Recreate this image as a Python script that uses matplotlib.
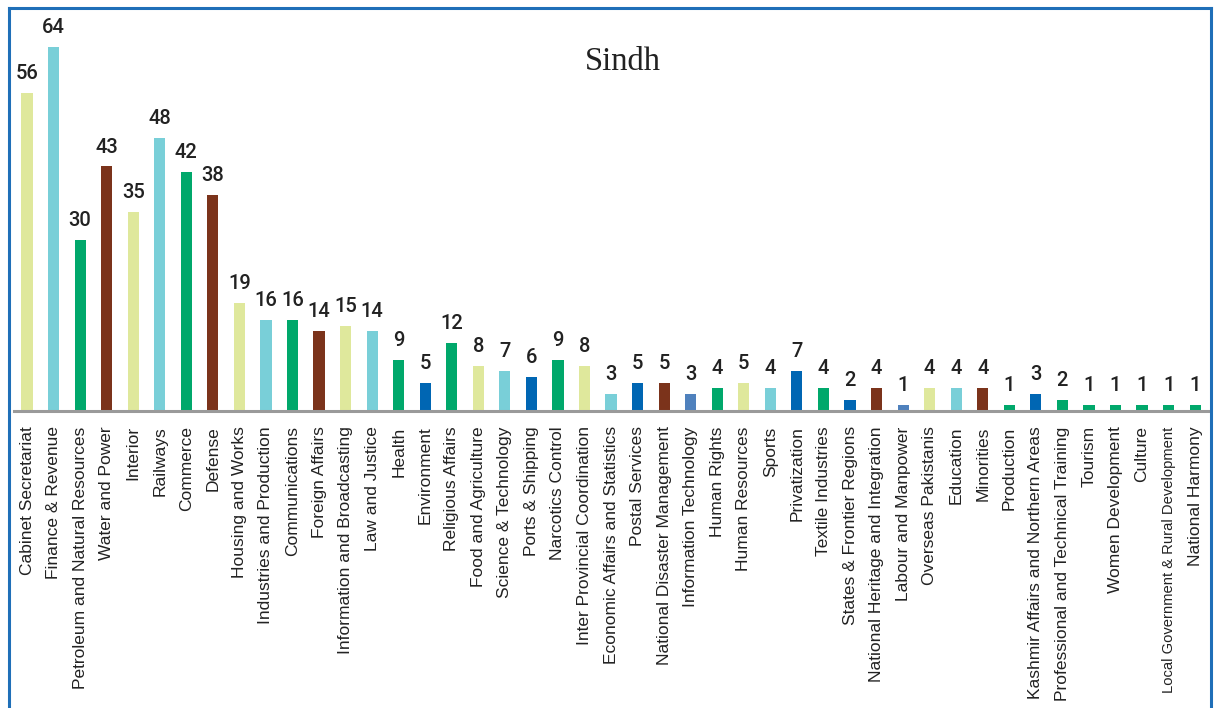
import matplotlib
matplotlib.use("Agg")
import matplotlib.pyplot as plt

categories = [
    "Cabinet Secretariat", "Finance & Revenue", "Petroleum and Natural Resources",
    "Water and Power", "Interior", "Railways", "Commerce", "Defense",
    "Housing and Works", "Industries and Production", "Communications",
    "Foreign Affairs", "Information and Broadcasting", "Law and Justice",
    "Health", "Environment", "Religious Affairs", "Food and Agriculture",
    "Science & Technology", "Ports & Shipping", "Narcotics Control",
    "Inter Provincial Coordination", "Economic Affairs and Statistics",
    "Postal Services", "National Disaster Management", "Information Technology",
    "Human Rights", "Human Resources", "Sports", "Privatization",
    "Textile Industries", "States & Frontier Regions",
    "National Heritage and Integration", "Labour and Manpower",
    "Overseas Pakistanis", "Education", "Minorities", "Production",
    "Kashmir Affairs and Northern Areas", "Professional and Technical Training",
    "Tourism", "Women Development", "Culture",
    "Local Government & Rural Development", "National Harmony",
]
values = [56, 64, 30, 43, 35, 48, 42, 38, 19, 16, 16, 14, 15, 14, 9, 5, 12, 8,
          7, 6, 9, 8, 3, 5, 5, 3, 4, 5, 4, 7, 4, 2, 4, 1, 4, 4, 4, 1, 3, 2,
          1, 1, 1, 1, 1]
color_keys = ["Y", "C", "G", "B", "Y", "C", "G", "B", "Y", "C", "G", "B", "Y",
              "C", "G", "D", "G", "Y", "C", "D", "G", "Y", "C", "D", "B", "M",
              "G", "Y", "C", "D", "G", "D", "B", "M", "Y", "C", "B", "G", "D",
              "G", "G", "G", "G", "G", "G"]
palette = {"Y": "#dfe89c", "C": "#79cfd8", "G": "#00a86b", "B": "#7b331b",
           "D": "#0066b3", "M": "#4f81bd"}
title = "Sindh"

W, H = 1214, 708
fig = plt.figure(figsize=(W / 100, H / 100), dpi=100)

# frame
frame_col = "#1f6fb8"
for xs, ys in [([8.5, 8.5], [H, 8]), ([8.5, 1211], [8, 8]), ([1211, 1211], [8, H])]:
    fig.add_artist(plt.Line2D([v / W for v in xs], [1 - v / H for v in ys],
                              color=frame_col, lw=2.2, transform=fig.transFigure))

ax_left, ax_right = 14, 1210
base_y, top_y = 411, 20
ax = fig.add_axes([ax_left / W, 1 - base_y / H, (ax_right - ax_left) / W,
                   (base_y - top_y) / H])

x = list(range(len(categories)))
cols = [palette[k] for k in color_keys]
ax.bar(x, values, width=0.42, color=cols, zorder=2)

for xi, v in zip(x, values):
    ax.annotate(str(v), (xi, v), xytext=(0, 10), textcoords="offset points",
                ha="center", va="baseline", fontsize=14.5, fontweight="medium",
                color="#222222", family=["Roboto", "Liberation Sans"])

ax.set_xlim(-0.49, 44.56)
ax.set_ylim(0, 64 * (base_y - top_y) / (base_y - 47))
ax.set_xticks(x)
ax.set_xticklabels(categories, rotation=90, fontsize=12.5, family="Liberation Sans",
                   color="#222222")
for lab in ax.get_xticklabels():
    if lab.get_text().startswith("Local Government"):
        lab.set_fontsize(10.6)
ax.tick_params(axis="x", length=0, pad=11)
ax.set_yticks([])
for s in ["top", "left", "right"]:
    ax.spines[s].set_visible(False)
ax.spines["bottom"].set_color("#9a9a9a")
ax.spines["bottom"].set_linewidth(2.2)
ax.patch.set_alpha(0)

fig.text(623 / W, 1 - 62 / H, title, ha="center", va="center", fontsize=23.5,
         family="Liberation Serif", color="#222222")

fig.savefig("out.png", dpi=100)
